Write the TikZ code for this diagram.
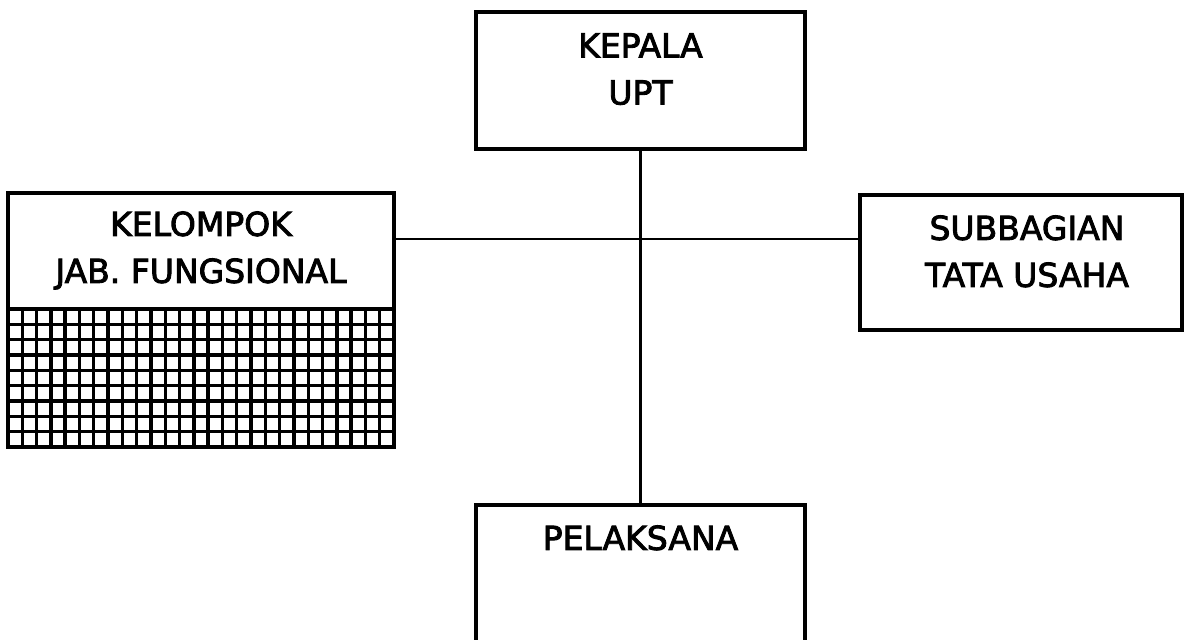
\documentclass[tikz,border=0pt]{standalone}
\usepackage{fontspec}
\setmainfont{DejaVu Sans}[BoldFont=DejaVu Sans, BoldFeatures={FakeBold=2.6}]
\usepackage{tikz}
\usetikzlibrary{positioning}

\begin{document}
\begin{tikzpicture}[x=1pt, y=-1pt]
      \tikzstyle{unit} = [rectangle, draw, line width=3.6pt, inner sep=0pt]
      \tikzstyle{txt} = [align=center, inner sep=0pt, font=\fontsize{33}{47}\selectfont\bfseries]
      \tikzstyle{link} = [line width=2.8pt]
      \tikzstyle{hatch} = [line width=3.4pt]
      \useasboundingbox (0,0) rectangle (1187,640);
      \node[unit, minimum width=329pt, minimum height=137pt] (kepala) at (640.5,80.5) {};
      \node[unit, minimum width=386pt, minimum height=254pt] (kelompok) at (201,320) {};
      \node[unit, minimum width=322pt, minimum height=135pt] (subbagian) at (1021,262.5) {};
      \node[unit, minimum width=329pt, minimum height=175pt] (pelaksana) at (640.5,592.5) {};
      \node[txt, below=23pt of kepala.north] (kepalatxt) {KEPALA\\UPT};
      \node[txt, below=20pt of kelompok.north] (kelompoktxt) {KELOMPOK\\JAB. FUNGSIONAL};
      \node[txt, below=22pt of subbagian.north, xshift=6pt] (subbagiantxt) {SUBBAGIAN\\TATA USAHA};
      \node[txt, below=22pt of pelaksana.north] (pelaksanatxt) {PELAKSANA};
      % grid in the lower part of the functional group box
      \draw[line width=3.6pt] (8,309) -- (394,309);
      \foreach \i in {1,...,26}
        \draw[hatch] ({8+\i*14.296},309) -- ({8+\i*14.296},447);
      \foreach \j in {1,...,8}
        \draw[hatch] (8,{309+\j*15.33}) -- (394,{309+\j*15.33});
      % connectors
      \coordinate (hub) at (640.5,239);
      \draw[link] (kepala) -- (pelaksana);
      \draw[link] (hub -| kelompok.east) -- (hub -| subbagian.west);
    \end{tikzpicture}
\end{document}
